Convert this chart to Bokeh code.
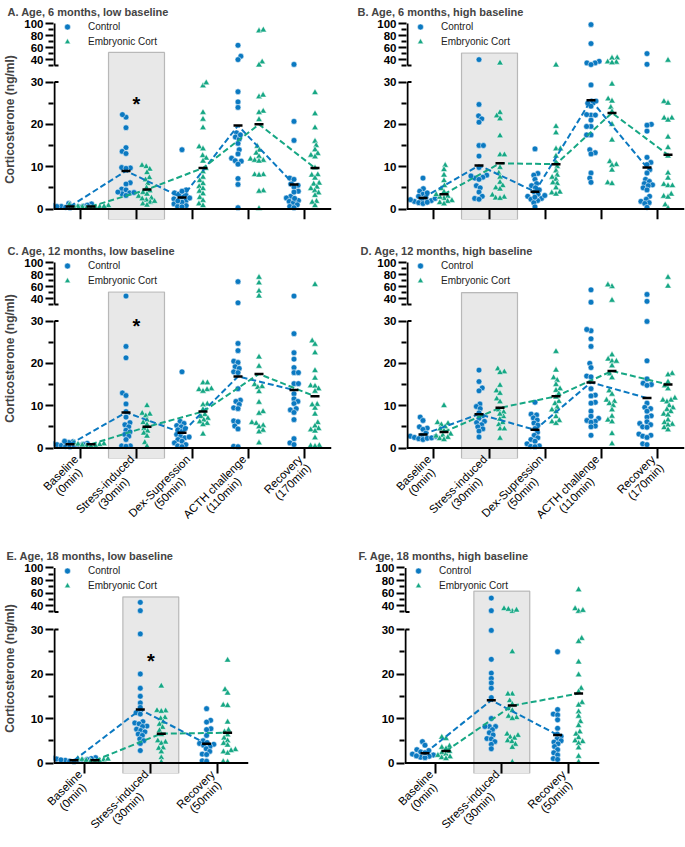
import math
from bokeh.plotting import figure
from bokeh.models import (Range1d, FixedTicker, Legend, LegendItem, BoxAnnotation)
from bokeh.layouts import column, row
from bokeh.embed import file_html
from bokeh.resources import INLINE
from bokeh.core.properties import value

FONT = "Liberation Sans"
BLUE = "#0b79c1"
GREEN = "#16a784"

CATS_5 = [("Baseline", "(0min)"), ("Stress-induced", "(30min)"), ("Dex-Supression", "(50min)"),
          ("ACTH challenge", "(110min)"), ("Recovery", "(170min)")]
CATS_3 = [("Baseline", "(0min)"), ("Stress-induced", "(30min)"), ("Recovery", "(50min)")]

# ---------------- data (ng/ml), one list per time point ----------------
A_ctrl = [
    [0.3, 0.5, 0.6, 0.8, 1.0, 1.2, 0.4, 0.7, 1.3, 0.5, 0.9, 0.6],
    [21.7, 22.3, 19.2, 14.5, 13.6, 13.1, 9.8, 9.7, 9.6, 6.2, 5.9, 4.7, 4.5, 3.8, 3.6, 3.2, 4.0, 3.9],
    [14.0, 4.5, 3.8, 3.2, 2.8, 2.4, 2.0, 1.6, 1.2, 0.8, 0.6, 2.6, 3.5, 4.2, 1.9, 0.5],
    [63.9, 45.6, 40.0, 27.7, 25.3, 24.0, 18.0, 17.0, 16.5, 15.5, 14.0, 13.0, 12.0, 11.4, 11.3, 10.6, 7.2, 5.8, 0.3, 17.5],
    [32.0, 20.7, 16.2, 7.3, 7.0, 5.9, 5.6, 5.2, 4.2, 3.0, 2.6, 2.0, 1.8, 1.5, 1.0, 0.6, 0.3, 2.5, 4.0],
]
A_ec = [
    [0.2, 0.4, 0.5, 0.6, 0.7, 0.8, 1.0, 0.5, 0.3, 0.6],
    [10.3, 10.0, 9.4, 8.6, 7.4, 6.9, 6.0, 5.0, 4.3, 3.9, 3.5, 3.0, 2.6, 2.1, 1.6, 1.2, 0.9, 1.8, 2.4],
    [29.1, 29.8, 22.8, 21.2, 19.2, 14.7, 14.2, 12.6, 12.0, 11.3, 9.6, 8.8, 7.5, 6.7, 6.0, 5.3, 4.8, 4.2, 3.6, 2.7, 2.0, 1.2, 0.8],
    [87.8, 89.4, 36.1, 31.0, 26.5, 26.9, 23.1, 22.8, 21.1, 14.8, 13.9, 13.2, 12.4, 11.8, 11.5, 11.5, 11.3, 8.1, 8.1, 8.0, 4.3, 4.2, 0.1],
    [27.5, 22.5, 19.2, 16.0, 15.0, 14.0, 13.1, 12.7, 12.3, 9.7, 8.1, 8.0, 7.3, 6.1, 5.9, 5.2, 4.8, 4.3, 3.8, 3.2, 1.8, 1.6, 0.8],
]
A_ctrl_mean = [0.6, 9.0, 2.7, 19.7, 5.8]
A_ec_mean = [0.6, 4.6, 9.7, 20.0, 9.7]

B_ctrl = [
    [7.3, 4.8, 4.2, 3.5, 3.0, 2.7, 2.3, 2.0, 1.8, 1.5, 1.3, 3.8, 2.5, 2.2, 1.6],
    [40.0, 24.7, 22.0, 21.3, 20.5, 15.0, 15.0, 12.5, 9.8, 8.0, 7.5, 7.3, 7.0, 5.5, 5.0, 4.0, 3.0, 2.5, 2.3, 7.8],
    [14.2, 8.4, 8.0, 7.0, 6.0, 5.5, 5.0, 4.5, 4.0, 3.5, 3.0, 2.5, 2.3, 2.0, 1.5, 0.5, 3.2, 2.8],
    [98.3, 66.7, 37.2, 34.4, 34.4, 31.7, 29.3, 25.5, 25.0, 25.5, 24.3, 22.2, 22.2, 22.3, 21.0, 19.5, 19.5, 17.5, 17.5, 14.0, 13.3, 13.0, 8.5, 7.3, 6.3],
    [50.0, 32.2, 20.0, 19.8, 18.4, 12.2, 11.0, 10.5, 9.3, 8.5, 7.0, 6.5, 6.0, 5.7, 5.5, 5.0, 4.5, 3.0, 2.3, 1.8, 1.5, 1.3, 0.4],
]
B_ec = [
    [10.3, 9.3, 8.0, 6.7, 5.5, 4.8, 4.0, 3.0, 2.5, 2.0, 1.8, 1.5, 1.2, 2.8, 3.4],
    [34.4, 22.8, 22.0, 21.3, 17.3, 12.8, 12.8, 9.8, 8.5, 7.5, 6.3, 5.5, 5.0, 4.7, 3.3, 2.8, 2.6, 2.5],
    [31.0, 19.5, 18.0, 14.2, 14.2, 12.5, 11.0, 10.0, 9.0, 8.0, 7.5, 7.0, 6.2, 6.0, 5.0, 4.0, 3.8, 3.5],
    [42.8, 42.5, 36.1, 35.6, 34.8, 29.5, 26.0, 25.5, 24.0, 23.0, 20.0, 16.3, 11.2, 10.5, 10.3, 9.2, 6.2, 6.0],
    [38.9, 25.4, 25.0, 21.5, 21.5, 21.0, 17.0, 14.5, 12.5, 8.5, 7.3, 5.8, 5.5, 5.5, 3.5, 3.0, 2.8, 1.0, 0.2],
]
B_ctrl_mean = [2.6, 10.3, 4.1, 25.7, 9.8]
B_ec_mean = [3.5, 10.8, 10.6, 22.7, 12.8]

C_ctrl = [
    [1.5, 1.3, 1.0, 0.8, 0.6, 0.4, 0.3, 1.6, 1.1, 0.7, 0.9, 0.5],
    [44.3, 24.0, 21.3, 13.0, 12.4, 10.4, 8.6, 7.3, 6.0, 5.5, 5.0, 4.2, 3.8, 3.2, 2.8, 2.0, 0.5, 0.5, 0.4],
    [18.0, 6.3, 5.8, 5.3, 5.0, 4.3, 3.2, 2.8, 2.4, 2.0, 1.6, 1.2, 0.8, 0.5, 0.3, 2.6, 3.9, 4.6],
    [68.3, 33.0, 24.7, 23.0, 20.5, 20.2, 19.2, 18.8, 18.0, 17.8, 14.0, 11.3, 11.0, 10.3, 9.5, 9.3, 6.4, 6.2, 5.2, 4.5, 0.4, 0.3],
    [44.3, 27.0, 22.5, 21.0, 19.0, 17.8, 17.8, 15.2, 15.2, 12.8, 11.6, 11.0, 10.5, 9.3, 9.0, 8.4, 6.7, 2.2, 1.2, 0.8],
]
C_ec = [
    [1.2, 1.0, 0.8, 0.6, 0.5, 0.4, 0.9, 0.7],
    [10.0, 8.2, 8.0, 7.6, 6.6, 6.0, 4.6, 4.0, 3.5, 2.8, 1.3, 0.4, 5.5],
    [15.4, 15.4, 14.0, 13.8, 13.8, 13.4, 10.4, 10.2, 9.1, 7.9, 7.4, 7.0, 6.6, 6.2, 5.8, 5.5, 3.3],
    [75.4, 66.1, 52.5, 44.3, 21.5, 19.3, 15.0, 14.5, 14.3, 13.3, 10.8, 8.6, 8.2, 6.0, 5.8, 5.3, 5.0, 4.2, 3.8, 1.2],
    [63.4, 25.3, 24.5, 22.5, 18.3, 16.5, 14.7, 14.6, 14.0, 13.4, 10.3, 10.2, 9.4, 8.0, 6.0, 5.2, 4.6, 4.3, 4.0, 2.4, 0.6, 0.5, 0.4],
]
C_ctrl_mean = [0.9, 8.4, 3.6, 16.9, 13.7]
C_ec_mean = [0.9, 5.0, 8.6, 17.5, 12.2]

D_ctrl = [
    [7.3, 6.5, 5.0, 4.7, 4.4, 3.5, 3.0, 2.8, 2.5, 2.2, 2.0, 2.3, 2.7, 2.4],
    [18.4, 15.7, 14.2, 13.5, 10.4, 9.8, 9.3, 7.6, 7.0, 6.3, 6.0, 5.5, 5.0, 4.5, 4.0, 2.6, 8.3],
    [10.8, 8.0, 7.8, 7.1, 6.6, 5.9, 5.4, 4.6, 3.7, 3.0, 2.4, 2.0, 1.6, 1.0, 0.5, 0.4, 0.3],
    [54.6, 34.0, 27.7, 28.0, 25.8, 24.0, 20.0, 19.0, 17.0, 16.8, 14.0, 12.5, 12.3, 10.8, 10.6, 8.7, 7.5, 7.0, 6.5, 6.3, 6.1, 5.2, 5.0, 3.0],
    [47.0, 35.5, 29.9, 20.6, 16.3, 15.3, 15.0, 14.8, 10.6, 9.6, 9.3, 8.7, 7.6, 7.3, 6.2, 5.8, 5.5, 5.0, 4.9, 3.3, 3.0, 2.8, 2.5, 1.0, 0.8],
]
D_ec = [
    [10.0, 6.0, 5.8, 5.5, 5.0, 4.5, 3.3, 3.0, 2.8, 2.5, 2.2, 2.0, 4.0],
    [18.7, 18.0, 17.8, 14.8, 13.5, 12.9, 11.6, 10.9, 9.0, 8.5, 7.4, 6.8, 6.0, 5.5, 4.5, 4.5, 2.3, 8.0],
    [22.8, 18.4, 16.6, 16.0, 15.0, 14.0, 13.6, 12.8, 11.0, 10.5, 9.6, 9.0, 8.6, 7.4, 6.5, 6.2, 5.8, 12.0],
    [60.1, 62.8, 37.2, 22.0, 21.0, 20.5, 20.5, 19.4, 17.5, 16.6, 13.5, 12.7, 11.3, 11.0, 10.5, 10.0, 9.0, 7.5, 6.6, 6.2, 3.4, 1.0],
    [75.4, 60.7, 17.6, 17.3, 15.6, 14.7, 14.0, 11.8, 11.3, 11.3, 10.9, 10.0, 9.5, 9.1, 8.6, 8.0, 7.8, 6.6, 6.0, 5.6, 5.4, 4.8, 4.3],
]
D_ctrl_mean = [3.2, 8.0, 4.3, 15.5, 11.8]
D_ec_mean = [3.8, 9.5, 12.2, 18.2, 15.0]

E_ctrl = [
    [1.2, 1.0, 0.9, 0.8, 0.6, 0.5, 0.4, 0.3, 0.7, 1.1, 0.6],
    [45.3, 32.1, 29.0, 20.0, 16.8, 15.0, 13.5, 12.5, 11.3, 11.0, 9.3, 9.0, 8.8, 8.3, 8.2, 7.6, 7.3, 7.0, 6.5, 6.2, 5.4, 5.0, 4.4, 2.8],
    [12.2, 9.6, 9.2, 7.7, 7.5, 6.2, 5.0, 4.6, 4.4, 4.2, 4.0, 3.7, 3.2, 2.6, 2.0, 1.9, 0.5, 0.4],
]
E_ec = [
    [1.0, 0.8, 0.7, 0.6, 0.5, 0.4, 0.3, 0.9],
    [17.3, 11.8, 11.7, 11.6, 10.2, 10.0, 9.2, 8.7, 8.0, 7.3, 6.4, 5.0, 4.7, 4.4, 3.4, 3.3, 2.5, 1.2, 0.2],
    [23.1, 16.5, 15.7, 13.0, 12.9, 9.2, 7.4, 7.0, 6.3, 5.6, 5.0, 4.4, 4.0, 3.0, 2.8, 2.5, 2.2, 0.3, 0.2],
]
E_ctrl_mean = [0.6, 12.0, 4.3]
E_ec_mean = [0.6, 6.6, 6.8]

F_ctrl = [
    [4.8, 4.0, 3.0, 2.8, 2.5, 2.0, 1.8, 1.5, 1.3, 1.2, 1.6, 2.3],
    [52.1, 32.1, 29.8, 23.3, 20.2, 19.0, 18.0, 16.8, 14.7, 10.0, 8.2, 8.2, 8.2, 7.5, 6.8, 6.3, 5.5, 5.4, 4.8, 4.2, 3.2],
    [25.0, 12.0, 11.0, 10.8, 9.7, 7.8, 6.0, 5.5, 5.0, 4.7, 4.3, 3.7, 3.0, 2.3, 1.8, 1.0, 0.8, 6.5],
]
F_ec = [
    [5.8, 5.5, 3.8, 3.5, 3.2, 2.3, 2.0, 1.7, 1.4, 1.2, 1.0, 2.6],
    [31.0, 35.3, 33.0, 34.2, 25.0, 15.5, 15.5, 14.0, 13.2, 12.2, 11.8, 10.5, 10.2, 10.0, 6.5, 6.2, 5.8, 5.6, 5.0, 4.8, 4.2, 3.5, 0.2],
    [65.3, 35.3, 31.0, 32.5, 28.0, 27.3, 22.7, 19.8, 16.8, 16.0, 13.6, 13.0, 11.5, 10.5, 9.3, 8.4, 7.0, 6.5, 5.7, 5.0, 4.8, 4.4, 3.4, 1.5, 0.2],
]
F_ctrl_mean = [2.2, 14.1, 6.3]
F_ec_mean = [2.7, 12.9, 15.6]

# significance star height (ng/ml) per panel, None = no star
STARS = {"A": 26.0, "B": None, "C": 30.0, "D": None, "E": 24.0, "F": None}
# top of the highlighted stress-induced box (upper-segment units)
BOX_TOP = {"A": 52, "B": 51, "C": 51, "D": 50, "E": 54, "F": 63}

# ---------------- broken axis definition ----------------
BREAK_LOW = 30
BREAK_HIGH = 30
LOWER_TICKS = [0, 10, 20, 30]
LOWER_MINOR = [5, 15, 25]
UPPER_TICKS = [40, 60, 80, 100]
UPPER_MINOR = [50, 70, 90]
UPPER_MAX = 100

GEOM = {
    "r12": dict(L=4.233, U=0.6, gap=16.4, S=56.0, m=27.0, H=200, bot=10.5),
    "r3": dict(L=4.45, U=0.63, gap=17.5, S=66.3, m=31.0, H=210, bot=10.5),
}
GROUP_OFF_PX = 10.5
BOX_HALF_PX = 28.0
CAP_PX = 4.0

# rough Arial advance widths (em) used to centre the second label line
_W = {"i": 0.22, "l": 0.22, "r": 0.33, "t": 0.28, "(": 0.33, ")": 0.33, "-": 0.33,
      " ": 0.28, "m": 0.83, "S": 0.67, "C": 0.72, "A": 0.67, "T": 0.61, "H": 0.72,
      "D": 0.72, "B": 0.67, "R": 0.72}


def _tw(s):
    return sum(_W.get(c, 0.556 if c.isdigit() else 0.52) for c in s)


def cat_label(pair):
    top, bottom = pair
    pad = max(0, int(round((_tw(top) - _tw(bottom)) / 2 / 0.278)))
    return top + "\n" + bottom + "\u00a0" * pad


def ypx(v, g):
    if v <= BREAK_LOW:
        return g["bot"] + v * g["L"]
    return g["bot"] + BREAK_LOW * g["L"] + g["gap"] + (v - BREAK_HIGH) * g["U"]


def swarm(vals, g, d=4.4):
    ys = [ypx(v, g) for v in vals]
    order = sorted(range(len(vals)), key=lambda i: ys[i])
    placed = []
    out = [0.0] * len(vals)
    for k, i in enumerate(order):
        y = ys[i]
        cands = {0.0}
        for (px, py) in placed:
            dy = abs(y - py)
            if dy < d:
                dx = math.sqrt(d * d - dy * dy)
                cands.add(px + dx)
                cands.add(px - dx)
        sgn = 1 if k % 2 else -1
        best = 0.0
        for c in sorted(cands, key=lambda c: (round(abs(c), 6), sgn * c)):
            if all((c - px) ** 2 + (y - py) ** 2 >= d * d - 1e-6 for px, py in placed):
                best = c
                break
        placed.append((best, y))
        out[i] = best
    return out


def make_panel(key, title, cats, ctrl, ec, cmean, emean, geom, ylabel, xlabels,
               bl, br, bt, bb, toff, tstand):
    g = GEOM[geom]
    n = len(cats)
    S, L, U, H = g["S"], g["L"], g["U"], g["H"]
    W = int(round((n - 1) * S + 2 * g["m"]))
    x0 = -g["m"] / S
    x1 = x0 + W / S
    lo0 = -g["bot"] / L
    lo1 = lo0 + H / L
    up0 = BREAK_HIGH - (g["bot"] + BREAK_LOW * L + g["gap"]) / U
    up1 = up0 + H / U

    def up2lo(v):
        return round(lo0 + (v - up0) * U / L, 4)

    p = figure(frame_width=W, frame_height=H, x_range=Range1d(x0, x1),
               y_range=Range1d(lo0, lo1), output_backend="svg",
               toolbar_location=None, min_border_left=bl, min_border_right=br,
               min_border_top=bt, min_border_bottom=bb, title=title)
    p.extra_y_ranges = {"upper": Range1d(up0, up1)}
    p.xgrid.visible = False
    p.ygrid.visible = False
    p.outline_line_color = None

    p.title.text_font = FONT
    p.title.text_font_size = "11px"
    p.title.text_font_style = "bold"
    p.title.align = "left"
    p.title.offset = toff
    p.title.standoff = tstand

    # highlighted stress-induced column
    hw = BOX_HALF_PX / S
    p.add_layout(BoxAnnotation(left=1 - hw, right=1 + hw, bottom=up0, top=BOX_TOP[key],
                               y_range_name="upper", fill_color="#e8e8e8", fill_alpha=1,
                               line_color="#333333", line_width=1.2, level="underlay"))

    off = GROUP_OFF_PX / S
    legend_r = []
    for groups, color, marker, size, sign in (
            (ctrl, BLUE, "circle", 5.8, -1),
            (ec, GREEN, "triangle", 6.6, 1)):
        lx, ly, ux, uy = [], [], [], []
        for i, vals in enumerate(groups):
            cx = i + sign * off
            for v, o in zip(vals, swarm(vals, g)):
                if v <= BREAK_LOW:
                    lx.append(cx + o / S)
                    ly.append(v)
                else:
                    ux.append(cx + o / S)
                    uy.append(v)
        r = p.scatter(lx, ly, marker=marker, size=size, fill_color=color,
                      line_color="white", line_width=0.5)
        p.scatter(ux, uy, marker=marker, size=size, fill_color=color,
                  line_color="white", line_width=0.5, y_range_name="upper")
        legend_r.append(r)
    for means, color, sign in ((cmean, BLUE, -1), (emean, GREEN, 1)):
        mx = [i + sign * off for i in range(n)]
        p.line(mx, means, line_color=color, line_width=2, line_dash="6 3")
    for means, sign in ((cmean, -1), (emean, 1)):
        mx = [i + sign * off for i in range(n)]
        p.scatter(mx, means, marker="dash", size=9, line_color="black", line_width=2.5)

    if STARS[key] is not None:
        p.text(x=[1], y=[STARS[key]], text=["*"], text_font=value(FONT),
               text_font_size="20px", text_font_style="bold", text_align="center",
               text_baseline="middle", y_offset=5, text_color="black")

    # axis lines (broken y axis) and break caps
    ax = x0 + 1.0 / S
    cap = ax + CAP_PX / S
    p.segment(x0=[ax], y0=[0], x1=[ax], y1=[BREAK_LOW], line_color="black", line_width=2)
    p.segment(x0=[ax], y0=[BREAK_HIGH], x1=[ax], y1=[UPPER_MAX], line_color="black",
              line_width=2, y_range_name="upper")
    p.segment(x0=[ax], y0=[BREAK_LOW], x1=[cap], y1=[BREAK_LOW], line_color="black", line_width=2)
    p.segment(x0=[ax], y0=[BREAK_HIGH], x1=[cap], y1=[BREAK_HIGH], line_color="black",
              line_width=2, y_range_name="upper")
    p.segment(x0=[x0], y0=[0], x1=[x1], y1=[0], line_color="black", line_width=2)

    ya = p.yaxis[0]
    ticks = LOWER_TICKS + [up2lo(v) for v in UPPER_TICKS]
    minor = LOWER_MINOR + [up2lo(v) for v in UPPER_MINOR] + [up2lo(BREAK_HIGH)]
    ya.ticker = FixedTicker(ticks=ticks, minor_ticks=minor)
    ya.major_label_overrides = {up2lo(v): str(v) for v in UPPER_TICKS}
    ya.axis_line_color = None
    ya.major_tick_line_width = 2
    ya.major_tick_out = 8
    ya.major_tick_in = 0
    ya.minor_tick_line_width = 2
    ya.minor_tick_out = 5
    ya.minor_tick_in = 0
    ya.major_label_text_font = FONT
    ya.major_label_text_font_size = "11.5px"
    ya.major_label_text_font_style = "bold"
    ya.major_label_text_color = "black"
    ya.major_label_standoff = 2
    if ylabel:
        ya.axis_label = "Corticosterone (ng/ml)"
        ya.axis_label_text_font = FONT
        ya.axis_label_text_font_size = "12px"
        ya.axis_label_text_font_style = "bold"
        ya.axis_label_standoff = 4

    xa = p.xaxis[0]
    if xlabels:
        xa.ticker = FixedTicker(ticks=list(range(n)), minor_ticks=[])
        xa.major_label_overrides = {i: cat_label(c) for i, c in enumerate(cats)}
        xa.axis_line_color = None
        xa.major_tick_line_width = 2
        xa.major_tick_in = int(round(g["bot"]))
        xa.major_tick_out = 0
        xa.major_label_orientation = math.pi / 4
        xa.major_label_text_font = FONT
        xa.major_label_text_font_size = "11.5px"
        xa.major_label_text_line_height = 1.0
        xa.major_label_text_color = "black"
        xa.major_label_standoff = 3
    else:
        xa.visible = False
        idx = list(range(n))
        p.segment(x0=idx, y0=[lo0] * n, x1=idx, y1=[0] * n, line_color="black", line_width=2)

    leg = Legend(items=[LegendItem(label="Control", renderers=[legend_r[0]]),
                        LegendItem(label="Embryonic Cort", renderers=[legend_r[1]])],
                 location=(0, H - 30), margin=0, padding=0, spacing=0,
                 glyph_width=28, glyph_height=15, label_height=15, label_standoff=7,
                 border_line_color=None, background_fill_alpha=0,
                 label_text_font=FONT, label_text_font_size="10px",
                 label_text_color="#222222")
    p.add_layout(leg)
    return p


pA = make_panel("A", "A. Age, 6 months, low baseline", CATS_5, A_ctrl, A_ec, A_ctrl_mean, A_ec_mean,
                "r12", True, False, 49, 13, 19, 19, -46, 4)
pB = make_panel("B", "B. Age, 6 months, high baseline", CATS_5, B_ctrl, B_ec, B_ctrl_mean, B_ec_mean,
                "r12", False, False, 62, 5, 19, 19, -49, 4)
pC = make_panel("C", "C. Age, 12 months, low baseline", CATS_5, C_ctrl, C_ec, C_ctrl_mean, C_ec_mean,
                "r12", True, True, 49, 13, 20, 85, -46, 4)
pD = make_panel("D", "D. Age, 12 months, high baseline", CATS_5, D_ctrl, D_ec, D_ctrl_mean, D_ec_mean,
                "r12", False, True, 62, 5, 20, 85, -46, 4)
pE = make_panel("E", "E. Age, 18 months, low baseline", CATS_3, E_ctrl, E_ec, E_ctrl_mean, E_ec_mean,
                "r3", True, True, 50, 95, 20, 74, -47, 4)
pF = make_panel("F", "F. Age, 18 months, high baseline", CATS_3, F_ctrl, F_ec, F_ctrl_mean, F_ec_mean,
                "r3", False, True, 61, 89, 20, 74, -46, 4)

layout = column(row(pA, pB), row(pC, pD), row(pE, pF))
open("out.html", "w").write(file_html(layout, INLINE))
